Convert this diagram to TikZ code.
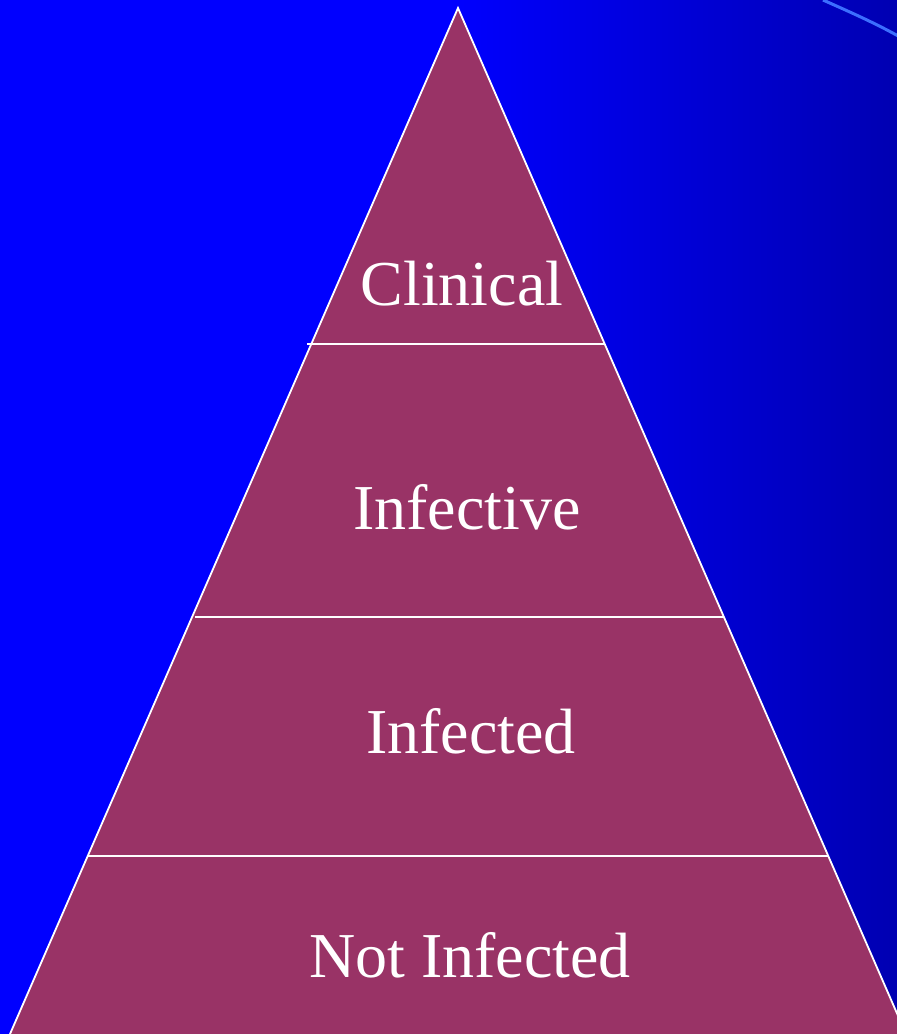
\documentclass[tikz,border=0pt]{standalone}
\usepackage{fontspec}
\setmainfont{Liberation Serif}
\definecolor{bgblue}{RGB}{0,0,255}
\definecolor{bgdark}{RGB}{0,0,178}
\definecolor{pyr}{RGB}{153,51,102}
\definecolor{arcblue}{RGB}{60,110,255}
\begin{document}
\begin{tikzpicture}[x=1pt,y=-1pt,
  lab/.style={text=white,font=\fontsize{64}{64}\selectfont,anchor=base,inner sep=0pt},
  sep/.style={draw=white,line width=1.8pt}]
\useasboundingbox (0,0) rectangle (897,1034);
\clip (0,0) rectangle (897,1034);
\fill[bgblue] (0,0) rectangle (450,1034);
\shade[left color=bgblue,right color=bgdark] (449,0) rectangle (897,1034);
\draw[arcblue,line width=3pt] (823,0) .. controls (850,12) and (875,23) .. (900,37);
\coordinate (apex) at (458,8);
\coordinate (bl) at (10,1034);
\coordinate (br) at (906,1034);
\fill[pyr] (apex) -- (bl) -- (br) -- cycle;
\draw[draw=white,line width=1.8pt,line join=miter] (bl) -- (apex) -- (br);
\coordinate (a1) at (307,344); \coordinate (b1) at (605,344);
\coordinate (a2) at (195,617); \coordinate (b2) at (724,617);
\coordinate (a3) at (87,856);  \coordinate (b3) at (829,856);
\draw[sep] (a1) -- (b1);
\draw[sep] (a2) -- (b2);
\draw[sep] (a3) -- (b3);
\node[lab] (clin) at (462,305) {Clinical};
\node[lab] (infv) at (467,529) {Infective};
\node[lab] (infd) at (471,753) {Infected};
\node[lab] (noti) at (470,977) {Not Infected};
\end{tikzpicture}
\end{document}
